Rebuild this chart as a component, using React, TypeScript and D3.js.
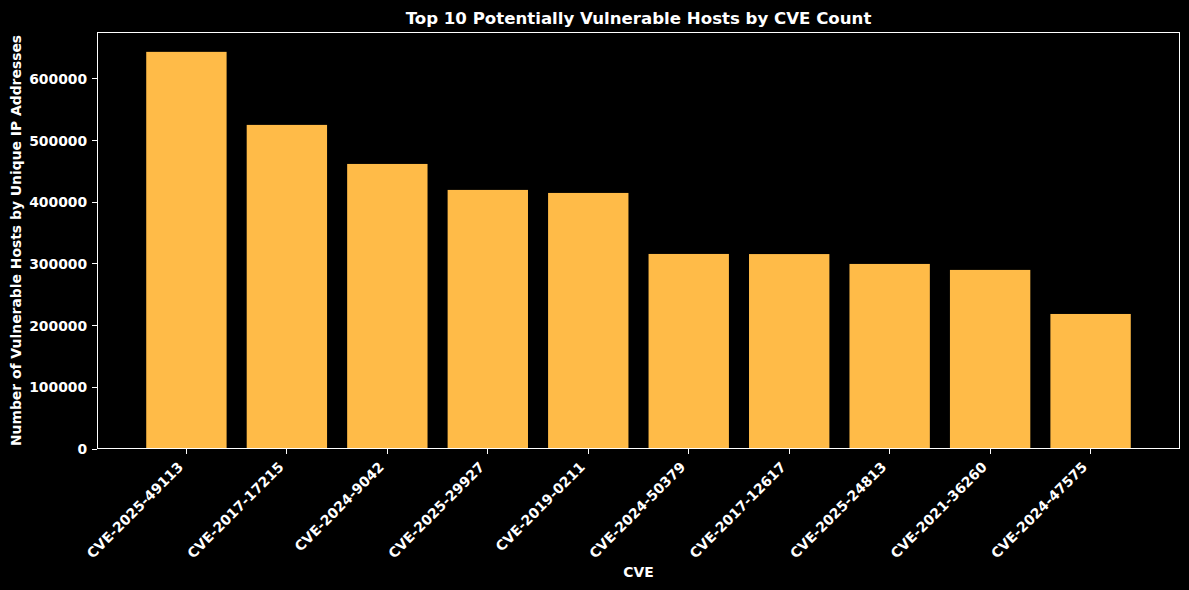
import { useEffect, useRef } from 'react';
import * as d3 from 'd3';

const CVES = [
    'CVE-2025-49113', 'CVE-2017-17215', 'CVE-2024-9042', 'CVE-2025-29927', 'CVE-2019-0211',
    'CVE-2024-50379', 'CVE-2017-12617', 'CVE-2025-24813', 'CVE-2021-36260', 'CVE-2024-47575',
];
const HOSTS = [643800, 525400, 462100, 420000, 415100, 316200, 316000, 300000, 290300, 218900];
const Y_TICKS = [0, 100000, 200000, 300000, 400000, 500000, 600000];

const W = 1189;
const H = 590;
const M = { top: 32, right: 9, bottom: 141, left: 97 };
const BAR = '#ffbb48';
const FONT = '"DejaVu Sans", sans-serif';
const FS = 13.9;

export default function App() {
    const svgRef = useRef<SVGSVGElement>(null);

    useEffect(() => {
        if (!svgRef.current) return;
        const svg = d3.select(svgRef.current);
        svg.selectAll('*').remove();

        const iw = W - M.left - M.right;
        const ih = H - M.top - M.bottom;

        // matplotlib-style categorical axis: bars at integers, width 0.8, 5% margins
        const n = CVES.length;
        const lo = -0.4 - 0.05 * (n - 1 + 0.8);
        const hi = n - 1 + 0.4 + 0.05 * (n - 1 + 0.8);
        const x = d3.scaleLinear().domain([lo, hi]).range([0, iw]);
        const y = d3.scaleLinear().domain([0, d3.max(HOSTS)! * 1.05]).range([ih, 0]);

        svg.append('rect').attr('width', W).attr('height', H).attr('fill', '#000');

        const g = svg.append('g').attr('transform', `translate(${M.left},${M.top})`);

        g.selectAll('.bar')
            .data(HOSTS)
            .join('rect')
            .attr('class', 'bar')
            .attr('x', (_, i) => x(i - 0.4))
            .attr('width', x(0.8) - x(0))
            .attr('y', d => y(d))
            .attr('height', d => ih - y(d))
            .attr('fill', BAR);

        // frame
        g.append('rect')
            .attr('x', 0.5).attr('y', 0.5)
            .attr('width', iw - 1).attr('height', ih - 1)
            .attr('fill', 'none').attr('stroke', '#fff').attr('stroke-width', 1)
            .attr('shape-rendering', 'crispEdges');

        // y ticks
        const yt = g.append('g');
        Y_TICKS.forEach(t => {
            yt.append('line')
                .attr('x1', -4.9).attr('x2', 0).attr('y1', y(t)).attr('y2', y(t))
                .attr('stroke', '#fff').attr('stroke-width', 1)
                .attr('shape-rendering', 'crispEdges');
            yt.append('text')
                .attr('x', -9.8).attr('y', y(t)).attr('dy', '0.36em')
                .attr('text-anchor', 'end')
                .attr('font-size', FS).attr('font-weight', 700).attr('font-family', FONT)
                .attr('fill', '#fff').text(t);
        });

        // x ticks
        const xt = g.append('g');
        CVES.forEach((c, i) => {
            xt.append('line')
                .attr('x1', x(i)).attr('x2', x(i)).attr('y1', ih).attr('y2', ih + 4.9)
                .attr('stroke', '#fff').attr('stroke-width', 1)
                .attr('shape-rendering', 'crispEdges');
            xt.append('text')
                .attr('transform', `translate(${x(i) - 2.4},${ih + 19}) rotate(-45)`)
                .attr('text-anchor', 'end')
                .attr('font-size', FS).attr('font-weight', 700).attr('font-family', FONT)
                .attr('fill', '#fff').text(c);
        });

        svg.append('text')
            .attr('x', M.left + iw / 2).attr('y', 24)
            .attr('text-anchor', 'middle')
            .attr('font-size', 16.6).attr('font-weight', 700).attr('font-family', FONT)
            .attr('fill', '#fff').text('Top 10 Potentially Vulnerable Hosts by CVE Count');

        svg.append('text')
            .attr('x', M.left + iw / 2).attr('y', 577)
            .attr('text-anchor', 'middle')
            .attr('font-size', FS).attr('font-weight', 700).attr('font-family', FONT)
            .attr('fill', '#fff').text('CVE');

        svg.append('text')
            .attr('transform', `translate(21,${M.top + ih / 2}) rotate(-90)`)
            .attr('text-anchor', 'middle')
            .attr('font-size', FS).attr('font-weight', 700).attr('font-family', FONT)
            .attr('fill', '#fff').text('Number of Vulnerable Hosts by Unique IP Addresses');
    }, []);

    return (
        <div style={{ position: 'absolute', left: 0, top: 0, background: '#000' }}>
            <svg ref={svgRef} width={W} height={H} style={{ display: 'block' }} />
        </div>
    );
}
